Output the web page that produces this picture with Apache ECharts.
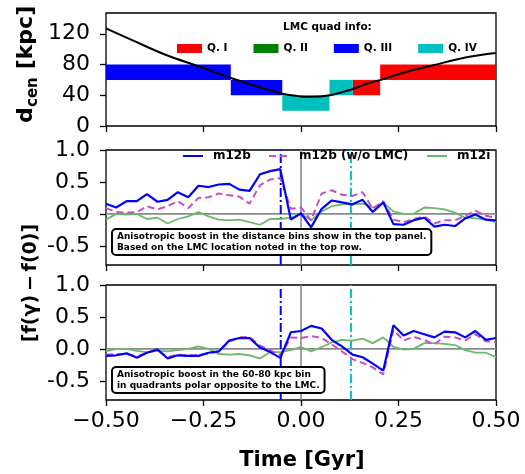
<!DOCTYPE html>
<html><head><meta charset="utf-8">
<script src="https://cdn.jsdelivr.net/npm/echarts@6/dist/echarts.min.js"></script>
<style>html,body{margin:0;padding:0;background:#fff}#c{width:525px;height:474px}</style>
</head><body><div id="c"></div>
<script>
// ---- data ----
const times = [-0.5, -0.474, -0.447, -0.421, -0.395, -0.368, -0.342, -0.316, -0.289, -0.263,
  -0.237, -0.211, -0.184, -0.158, -0.132, -0.105, -0.079, -0.053, -0.026, 0.0,
  0.026, 0.053, 0.079, 0.105, 0.132, 0.158, 0.184, 0.211, 0.237, 0.263,
  0.289, 0.316, 0.342, 0.368, 0.395, 0.421, 0.447, 0.474, 0.5];

// panel 2: distance bins of top panel
const m12bTop = [0.16,0.10,0.20,0.20,0.31,0.19,0.22,0.34,0.26,0.44,
  0.42,0.46,0.47,0.38,0.36,0.62,0.67,0.70,-0.09,0.01,
  -0.21,0.08,0.21,0.18,0.15,0.22,0.03,0.18,-0.16,-0.17,
  -0.10,-0.06,-0.20,-0.17,-0.19,-0.07,-0.01,-0.09,-0.10];
const m12bNoLmcTop = [0.09,0.03,0.02,0.03,0.12,0.07,0.12,0.20,0.09,0.25,
  0.26,0.32,0.29,0.27,0.16,0.45,0.54,0.56,0.08,0.10,
  -0.10,0.32,0.37,0.30,0.28,0.34,0.08,0.20,-0.09,-0.13,
  -0.08,-0.04,-0.15,-0.10,-0.10,-0.03,0.05,-0.03,-0.06];
const m12iTop = [-0.09,0.00,-0.01,0.00,-0.08,-0.06,-0.15,-0.08,-0.04,0.03,
  -0.04,-0.09,-0.10,-0.09,-0.13,-0.17,-0.08,-0.08,-0.06,0.00,
  -0.10,0.04,0.12,0.15,0.15,0.16,0.10,0.17,0.04,0.00,
  0.00,0.10,0.09,0.07,0.02,-0.06,-0.07,-0.09,-0.13];

// panel 3: 60-80 kpc bin, quadrants polar opposite to the LMC
const m12bBot = [-0.11,-0.10,-0.07,-0.14,-0.06,-0.01,-0.15,-0.10,-0.11,-0.11,
  -0.06,-0.04,0.13,0.17,0.17,0.02,-0.05,-0.14,0.26,0.28,
  0.36,0.32,0.14,0.04,-0.09,-0.13,-0.23,-0.34,0.37,0.21,
  0.28,0.23,0.18,0.27,0.26,0.18,0.28,0.14,0.17];
const m12bNoLmcBot = [-0.09,-0.08,-0.08,-0.12,-0.06,-0.02,-0.13,-0.09,-0.10,-0.10,
  -0.07,-0.04,0.12,0.18,0.19,0.05,-0.02,-0.10,0.18,0.17,
  0.20,0.17,0.07,-0.04,-0.16,-0.22,-0.29,-0.40,0.30,0.13,
  0.19,0.14,0.07,0.19,0.18,0.13,0.23,0.12,0.10];
const m12iBot = [-0.04,0.00,0.00,-0.03,-0.05,-0.03,-0.04,-0.02,0.00,0.04,
  0.00,-0.08,-0.09,-0.08,-0.10,-0.15,-0.05,-0.05,-0.02,0.03,
  -0.04,0.03,0.10,0.14,0.13,0.16,0.09,0.18,0.03,-0.01,
  0.00,0.09,0.09,0.08,0.06,-0.02,-0.06,-0.06,-0.13];

// top panel: LMC galactocentric distance
const orbitTime = [-0.5,-0.43,-0.344,-0.259,-0.174,-0.088,-0.045,0.0,0.023,0.074,0.126,0.168,0.211,0.254,0.339,0.425,0.5];
const orbitDist = [127,111,92,77,61.5,48,41.5,38.5,38,40,47,55,61,68,79,89.5,95];

// distance bins with LMC quadrant
const binQuad  = ['Q. III','Q. III','Q. IV','Q. IV','Q. I','Q. I'];
const binStart = [-0.5,-0.18,-0.048,0.073,0.133,0.203];
const binEnd   = [-0.18,-0.048,0.073,0.133,0.203,0.5];
const binLow   = [60,40,20,40,40,60];
const binHigh  = [80,60,40,60,60,80];

const quadNames = ['Q. I','Q. II','Q. III','Q. IV'];
const quadColors = ['#ff0000','#008000','#0000ff','#00bfbf'];

// reference lines in the lower panels
const lmcLineTime = -0.052;
const q4LineTime = 0.128;
const zeroTime = 0;

const dTicks = [0,40,80,120];
const fTicks = [-0.5,0,0.5,1.0];

// ---- chart ----
const FONT = 'DejaVu Sans';
const F_MIN = -0.8, F_MAX = 1.0, T_MIN = -0.5, T_MAX = 0.5;
const chart = echarts.init(document.getElementById('c'), null, {renderer:'canvas'});

const gridDefs = [
  {left:106, top:13, width:390, height:113},
  {left:106, top:150, width:390, height:115},
  {left:106, top:285, width:390, height:115}
];
const grid = gridDefs.map(g => Object.assign({show:true, borderColor:'#000', borderWidth:1.3, backgroundColor:'rgba(0,0,0,0)'}, g));

const xAxis = gridDefs.map((g,i) => ({
  type:'value', gridIndex:i, min:T_MIN, max:T_MAX, interval:0.25,
  axisLine:{show:false, onZero:false},
  axisTick:{show:true, inside:false, length:6, lineStyle:{color:'#000', width:1.3}},
  axisLabel:{show:i===2, fontSize:22, fontFamily:FONT, color:'#000', margin:10,
    formatter: v => (v < 0 ? '\u2212' : '') + Math.abs(v).toFixed(2)},
  splitLine:{show:false}
}));

function yAx(i, min, max, ticks, fmt) {
  return {
    type:'value', gridIndex:i, min:min, max:max,
    axisLine:{show:false, onZero:false},
    axisTick:{show:true, inside:false, length:6, lineStyle:{color:'#000', width:1.3}, customValues:ticks},
    axisLabel:{show:true, fontSize:22, fontFamily:FONT, color:'#000', margin:16, customValues:ticks, formatter:fmt},
    splitLine:{show:false}
  };
}
const yAxis = [
  yAx(0, 0, 147, dTicks, v => String(Math.round(v))),
  yAx(1, F_MIN, F_MAX, fTicks, v => v.toFixed(1)),
  yAx(2, F_MIN, F_MAX, fTicks, v => v.toFixed(1))
];

const series = [];
quadNames.forEach((q, qi) => {
  const rows = [];
  binQuad.forEach((bq, bi) => { if (bq === q) rows.push([binStart[bi], binEnd[bi], binLow[bi], binHigh[bi]]); });
  series.push({
    type:'custom', name:q, xAxisIndex:0, yAxisIndex:0, z:1,
    itemStyle:{color:quadColors[qi]},
    encode:{x:[0,1], y:[2,3]},
    data: rows,
    renderItem: (params, api) => {
      const p0 = api.coord([api.value(0), api.value(3)]);
      const p1 = api.coord([api.value(1), api.value(2)]);
      return {type:'rect', shape:{x:p0[0], y:p0[1], width:p1[0]-p0[0], height:p1[1]-p0[1]},
        style:{fill:quadColors[qi]}};
    }
  });
});
series.push({
  type:'line', name:'orbit', xAxisIndex:0, yAxisIndex:0, z:5,
  data: orbitTime.map((t,i) => [t, orbitDist[i]]),
  smooth:0.35, symbol:'none', lineStyle:{color:'#000', width:2}, itemStyle:{color:'#000'}
});

function refLine(gi, pts, color, type, w) {
  series.push({type:'line', name:'ref', xAxisIndex:gi, yAxisIndex:gi, z:1, silent:true,
    data:pts, symbol:'none', lineStyle:{color:color, width:w, type:type}, itemStyle:{color:color}});
}

function addPanel(gi, blue, mag, green) {
  refLine(gi, [[T_MIN,0],[T_MAX,0]], '#8a8a8a', 'solid', 1.6);
  refLine(gi, [[zeroTime,F_MIN],[zeroTime,F_MAX]], '#8a8a8a', 'solid', 1.6);
  refLine(gi, [[lmcLineTime,F_MIN],[lmcLineTime,F_MAX]], '#0000ff', [9,3,2,3], 2);
  refLine(gi, [[q4LineTime,F_MIN],[q4LineTime,F_MAX]], '#00c0c0', [9,3,2,3], 2);
  series.push({type:'line', name:'m12i', xAxisIndex:gi, yAxisIndex:gi, z:2,
    data: times.map((t,i)=>[t, green[i]]), symbol:'none', showSymbol:false,
    lineStyle:{color:'#6cb86c', width:1.8}, itemStyle:{color:'#6cb86c'}});
  series.push({type:'line', name:'m12b (w/o LMC)', xAxisIndex:gi, yAxisIndex:gi, z:3,
    data: times.map((t,i)=>[t, mag[i]]), symbol:'none', showSymbol:false,
    lineStyle:{color:'#c84fc8', width:2, type:[7,4]}, itemStyle:{color:'#c84fc8'}});
  series.push({type:'line', name:'m12b', xAxisIndex:gi, yAxisIndex:gi, z:4,
    data: times.map((t,i)=>[t, blue[i]]), symbol:'none', showSymbol:false,
    lineStyle:{color:'#0000ff', width:2.2}, itemStyle:{color:'#0000ff'}});
}
addPanel(1, m12bTop, m12bNoLmcTop, m12iTop);
addPanel(2, m12bBot, m12bNoLmcBot, m12iBot);

const lineLegend = (name, left) => ({
  data:[name], left:left, top:150, padding:0, itemWidth:20, itemHeight:12,
  selectedMode:false, itemStyle:{opacity:0},
  textStyle:{fontFamily:FONT, fontWeight:'bold', fontSize:12, color:'#000', padding:[0,0,0,5]}
});
const legend = [
  {data:quadNames, left:172, top:38, itemWidth:25, itemHeight:9, itemGap:26, icon:'rect',
   selectedMode:false, textStyle:{fontFamily:FONT, fontWeight:'bold', fontSize:10.5, color:'#000'}},
  lineLegend('m12b', 182),
  lineLegend('m12b (w/o LMC)', 268),
  lineLegend('m12i', 426)
];

const boldFont = s => 'bold ' + s + 'px "' + FONT + '"';
const graphic = [
  {type:'text', left:283, top:22, style:{text:'LMC quad info:', font:boldFont(10.5), fill:'#000'}},
  {type:'text', x:110, y:73, style:{text:'20 kpc bins', font:boldFont(11), fill:'#000', verticalAlign:'middle'}},
  {type:'group', x:37, y:65, rotation:Math.PI/2, children:[
    {type:'text', x:-58, y:0, style:{text:'d', font:boldFont(22), fill:'#000', verticalAlign:'bottom'}},
    {type:'text', x:-42, y:4, style:{text:'cen', font:boldFont(15), fill:'#000', verticalAlign:'bottom'}},
    {type:'text', x:-12, y:0, style:{text:' [kpc]', font:boldFont(22), fill:'#000', verticalAlign:'bottom'}}
  ]},
  {type:'text', x:31, y:283, rotation:Math.PI/2,
   style:{text:'[f(\u03b3)\u2009\u2212\u2009f(0)]', font:boldFont(19), fill:'#000', align:'center', verticalAlign:'middle'}},
  {type:'text', x:302, y:461, style:{text:'Time [Gyr]', font:boldFont(21), fill:'#000', align:'center', verticalAlign:'middle'}},
  {type:'text', x:113, y:230, z:100,
   style:{text:'Anisotropic boost in the distance bins show in the top panel.\nBased on the LMC location noted in the top row.',
     font:boldFont(9), lineHeight:11, fill:'#000', backgroundColor:'#fff', borderColor:'#000', borderWidth:2,
     borderRadius:3, padding:[1,4,1,4]}},
  {type:'text', x:113, y:368, z:100,
   style:{text:'Anisotropic boost in the 60-80 kpc bin\nin quadrants polar opposite to the LMC.',
     font:boldFont(9), lineHeight:11, fill:'#000', backgroundColor:'#fff', borderColor:'#000', borderWidth:2,
     borderRadius:3, padding:[1,4,1,4]}}
];

chart.setOption({animation:false, backgroundColor:'#fff', grid, xAxis, yAxis, series, legend, graphic});
</script></body></html>
